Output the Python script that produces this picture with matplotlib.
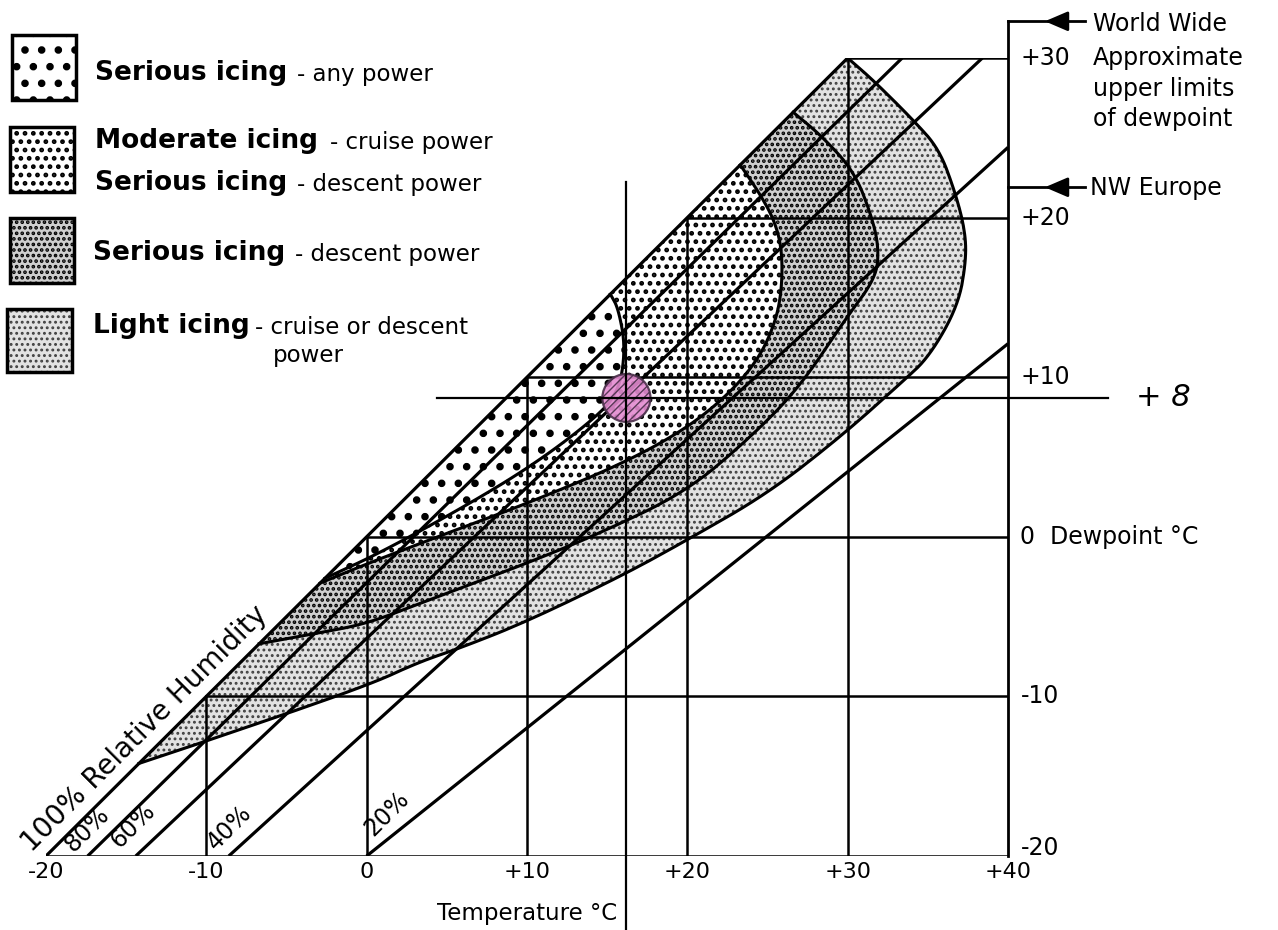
import numpy as np
import matplotlib
matplotlib.use("Agg")
import matplotlib.pyplot as plt
from matplotlib.patches import Polygon, Rectangle, Circle

# --- Datos: temperatura (°C) en x, punto de rocío (°C) en y ---
rh_etiquetas = ["100%", "80%", "60%", "40%", "20%"]
rh_inicio_T = [-20, -17.4, -14.4, -8.6, 0]
rh_inicio_D = [-20, -20, -20, -20, -20]
rh_fin_T = [30, 33.4, 38.4, 40, 40]
rh_fin_D = [30, 30, 30, 24.4, 12.1]

temp_ticks = [-20, -10, 0, 10, 20, 30, 40]
temp_etiquetas = ["-20", "-10", "0", "+10", "+20", "+30", "+40"]
rocio_ticks = [-20, -10, 0, 10, 20, 30]
rocio_etiquetas = ["-20", "-10", "0  Dewpoint °C", "+10", "+20", "+30"]

# zonas de engelamiento (contorno desde la línea de 100% y de vuelta a ella)
leve_T = [-14.2, -10.0, 0, 3.25, 5.75, 9.9, 15.9, 19.9, 25.0, 29.6, 33.4, 35.1, 36.9, 37.4, 37.3, 36.7, 35.7, 34.1, 31.6, 30]
leve_D = [-14.2, -12.8, -9.35, -7.85, -7.0, -5.35, -2.45, -0.25, 2.7, 6.3, 9.7, 11.3, 14.5, 17.4, 19.3, 21.6, 24.3, 26.1, 28.6, 30]

descenso_T = [-6.7, -3.4, 0, 3.25, 9.9, 14.5, 19.9, 23.8, 26.95, 29.9, 31.75, 31.95, 31.5, 30.4, 28.4, 26.6]
descenso_D = [-6.7, -6.1, -5.45, -4.2, -1.7, 0.2, 2.8, 6.1, 9.3, 13.7, 16.2, 18.05, 20.1, 22.9, 25.1, 26.6]

moderado_T = [-2.9, 0, 3.25, 5.75, 9.9, 15.9, 19.9, 22.6, 24.45, 25.5, 25.9, 25.9, 25.4, 24.45, 23.3]
moderado_D = [-2.9, -1.7, -0.45, 0.5, 2.05, 4.55, 6.75, 8.95, 11.15, 13.45, 15.55, 18.05, 19.9, 21.6, 23.3]

grave_T = [-2.6, 0.95, 6.2, 10.3, 13.85, 15.7, 16.15, 15.7, 15.2]
grave_D = [-2.6, -0.95, 1.95, 4.45, 7.1, 8.95, 11.8, 14.3, 15.2]

# ejemplo: temperatura +16, punto de rocío "+8"
ejemplo_T = 16.2
ejemplo_D = 8.7
limite_mundial = 32.3
limite_europa = 21.9

leyenda_principal = ["Serious icing", "Moderate icing", "Serious icing", "Serious icing", "Light icing"]
leyenda_secundaria = ["- any power", "- cruise power", "- descent power", "- descent power", "- cruise or descent"]

# estilos de trama: (hatch, color de trama, grosor, fondo)
estilo_leve = ("...", "#404040", 1.3, "#e2e2e2")
estilo_descenso = ("...", "black", 1.8, "#cfcfcf")
estilo_moderado = ("..", "black", 2.2, "white")
estilo_grave = (".", "black", 3.0, "white")


def suavizar(xs, ys, n=3):
    p = np.column_stack([xs, ys]).astype(float)
    for _ in range(n):
        q = 0.75 * p[:-1] + 0.25 * p[1:]
        r = 0.25 * p[:-1] + 0.75 * p[1:]
        m = np.empty((2 * len(q), 2))
        m[0::2] = q
        m[1::2] = r
        p = np.vstack([p[0], m, p[-1]])
    return p


def parche(patch_cls, estilo, **kw):
    hatch, color, hlw, fondo = estilo
    with plt.rc_context({"hatch.linewidth": hlw}):
        p = patch_cls(facecolor=fondo, edgecolor=color, lw=0, hatch=hatch, **kw)
    if hasattr(p, "set_hatch_linewidth"):
        p.set_hatch_linewidth(hlw)
    return p


fig = plt.figure(figsize=(12.78, 9.30), dpi=100)
ax = fig.add_axes([46 / 1278, 74 / 930, 962 / 1278, 798 / 930])
ax.set_xlim(-20, 40)
ax.set_ylim(-20, 30)
ax.axis("off")

# zonas, de la exterior a la interior
for i, (T, D, est) in enumerate([(leve_T, leve_D, estilo_leve),
                                  (descenso_T, descenso_D, estilo_descenso),
                                  (moderado_T, moderado_D, estilo_moderado),
                                  (grave_T, grave_D, estilo_grave)]):
    pts = suavizar(T, D)
    ax.add_patch(parche(Polygon, est, xy=pts, closed=True, zorder=1 + i))
    ax.plot(pts[:, 0], pts[:, 1], color="black", lw=2.2, zorder=5)

# rejilla: horizontales desde la línea de 100% hasta +40
for d in rocio_ticks:
    t0 = -20 if d == -20 else d
    ax.plot([t0, 40], [d, d], color="black", lw=1.8, zorder=6)
for t in temp_ticks[1:-1]:
    ax.plot([t, t], [-20, t], color="black", lw=1.8, zorder=6)
ax.plot([40, 40], [-20, limite_mundial], color="black", lw=2, zorder=6, clip_on=False)

# líneas de humedad relativa
for t0, d0, t1, d1 in zip(rh_inicio_T, rh_inicio_D, rh_fin_T, rh_fin_D):
    ax.plot([t0, t1], [d0, d1], color="black", lw=2.3, zorder=6, solid_capstyle="butt")

# etiquetas de humedad relativa
rh_pos = [(-20.9, -19.8), (-18.3, -19.8), (-15.4, -19.55), (-9.4, -19.7), (0.4, -18.8)]
for lbl, (t, d) in zip(rh_etiquetas, rh_pos):
    txt = lbl + " Relative Humidity" if lbl == "100%" else lbl
    ax.text(t, d, txt, rotation=45, rotation_mode="anchor", ha="left", va="baseline",
            fontsize=20 if lbl == "100%" else 17, zorder=7, clip_on=False)

# ejemplo +16 / +8
ax.plot([ejemplo_T, ejemplo_T], [22.2, -25], color="black", lw=1.6, zorder=8, clip_on=False)
ax.plot([4.4, 46.25], [ejemplo_D, ejemplo_D], color="black", lw=1.6, zorder=8, clip_on=False)
circ = Circle((ejemplo_T, ejemplo_D), 1.5, facecolor="#e38bd0", edgecolor="#4a2f4a",
              lw=1.6, hatch="////", alpha=0.9, zorder=7)
ax.add_patch(circ)
ax.annotate("+ 8", (46.25, ejemplo_D), xytext=(20, 0), textcoords="offset points",
            ha="left", va="center", fontsize=22, fontstyle="italic", family="DejaVu Sans",
            annotation_clip=False)

# etiquetas de ejes
for t, lbl in zip(temp_ticks, temp_etiquetas):
    ax.annotate(lbl, (t, -20), xytext=(0, -11.5), textcoords="offset points",
                ha="center", va="center", fontsize=16, annotation_clip=False)
for d, lbl in zip(rocio_ticks, rocio_etiquetas):
    dy = 5.5 if d == -20 else 0
    ax.annotate(lbl, (40, d), xytext=(9, dy), textcoords="offset points",
                ha="left", va="center", fontsize=17, annotation_clip=False)
ax.text(10.0, -23.6, "Temperature °C", ha="center", va="center", fontsize=16.5, clip_on=False)

# flechas de límites de punto de rocío
for d in [limite_mundial, limite_europa]:
    ax.plot([40, 44.8], [d, d], color="black", lw=2, clip_on=False, zorder=6)
    ax.annotate("", xy=(42.3, d), xytext=(43.6, d), annotation_clip=False,
                arrowprops=dict(arrowstyle="-|>,head_length=0.7,head_width=0.3",
                                color="black", lw=2, shrinkA=0, shrinkB=0, mutation_scale=20))

# textos de la derecha y leyenda en coordenadas de píxel
ov = fig.add_axes([0, 0, 1, 1])
ov.set_xlim(0, 1278)
ov.set_ylim(930, 0)
ov.axis("off")
for y, s in [(24, "World Wide"), (58, "Approximate"), (89, "upper limits"), (119, "of dewpoint"), (188, "NW Europe")]:
    ov.text(1093 if s != "NW Europe" else 1090, y, s, ha="left", va="center", fontsize=17)

cajas = [(12, 35, 64, 65, estilo_grave), (10, 127, 64, 65, estilo_moderado),
         (10, 218, 64, 65, estilo_descenso), (7, 309, 65, 63, estilo_leve)]
for x, y, w, h, est in cajas:
    ov.add_patch(parche(Rectangle, est, xy=(x, y), width=w, height=h))
    ov.add_patch(Rectangle((x, y), w, h, fill=False, edgecolor="black", lw=2.5))

filas = [(95, 80, 297), (95, 148, 330), (95, 190, 297), (93, 260, 295), (93, 333, 255)]
for (x, y, xs), a, b in zip(filas, leyenda_principal, leyenda_secundaria):
    ov.text(x, y, a, ha="left", va="baseline", fontsize=19, fontweight="bold")
    ov.text(xs, y + 1, b, ha="left", va="baseline", fontsize=16.5)
ov.text(273, 362, "power", ha="left", va="baseline", fontsize=16.5)

fig.savefig("out.png", dpi=100)
